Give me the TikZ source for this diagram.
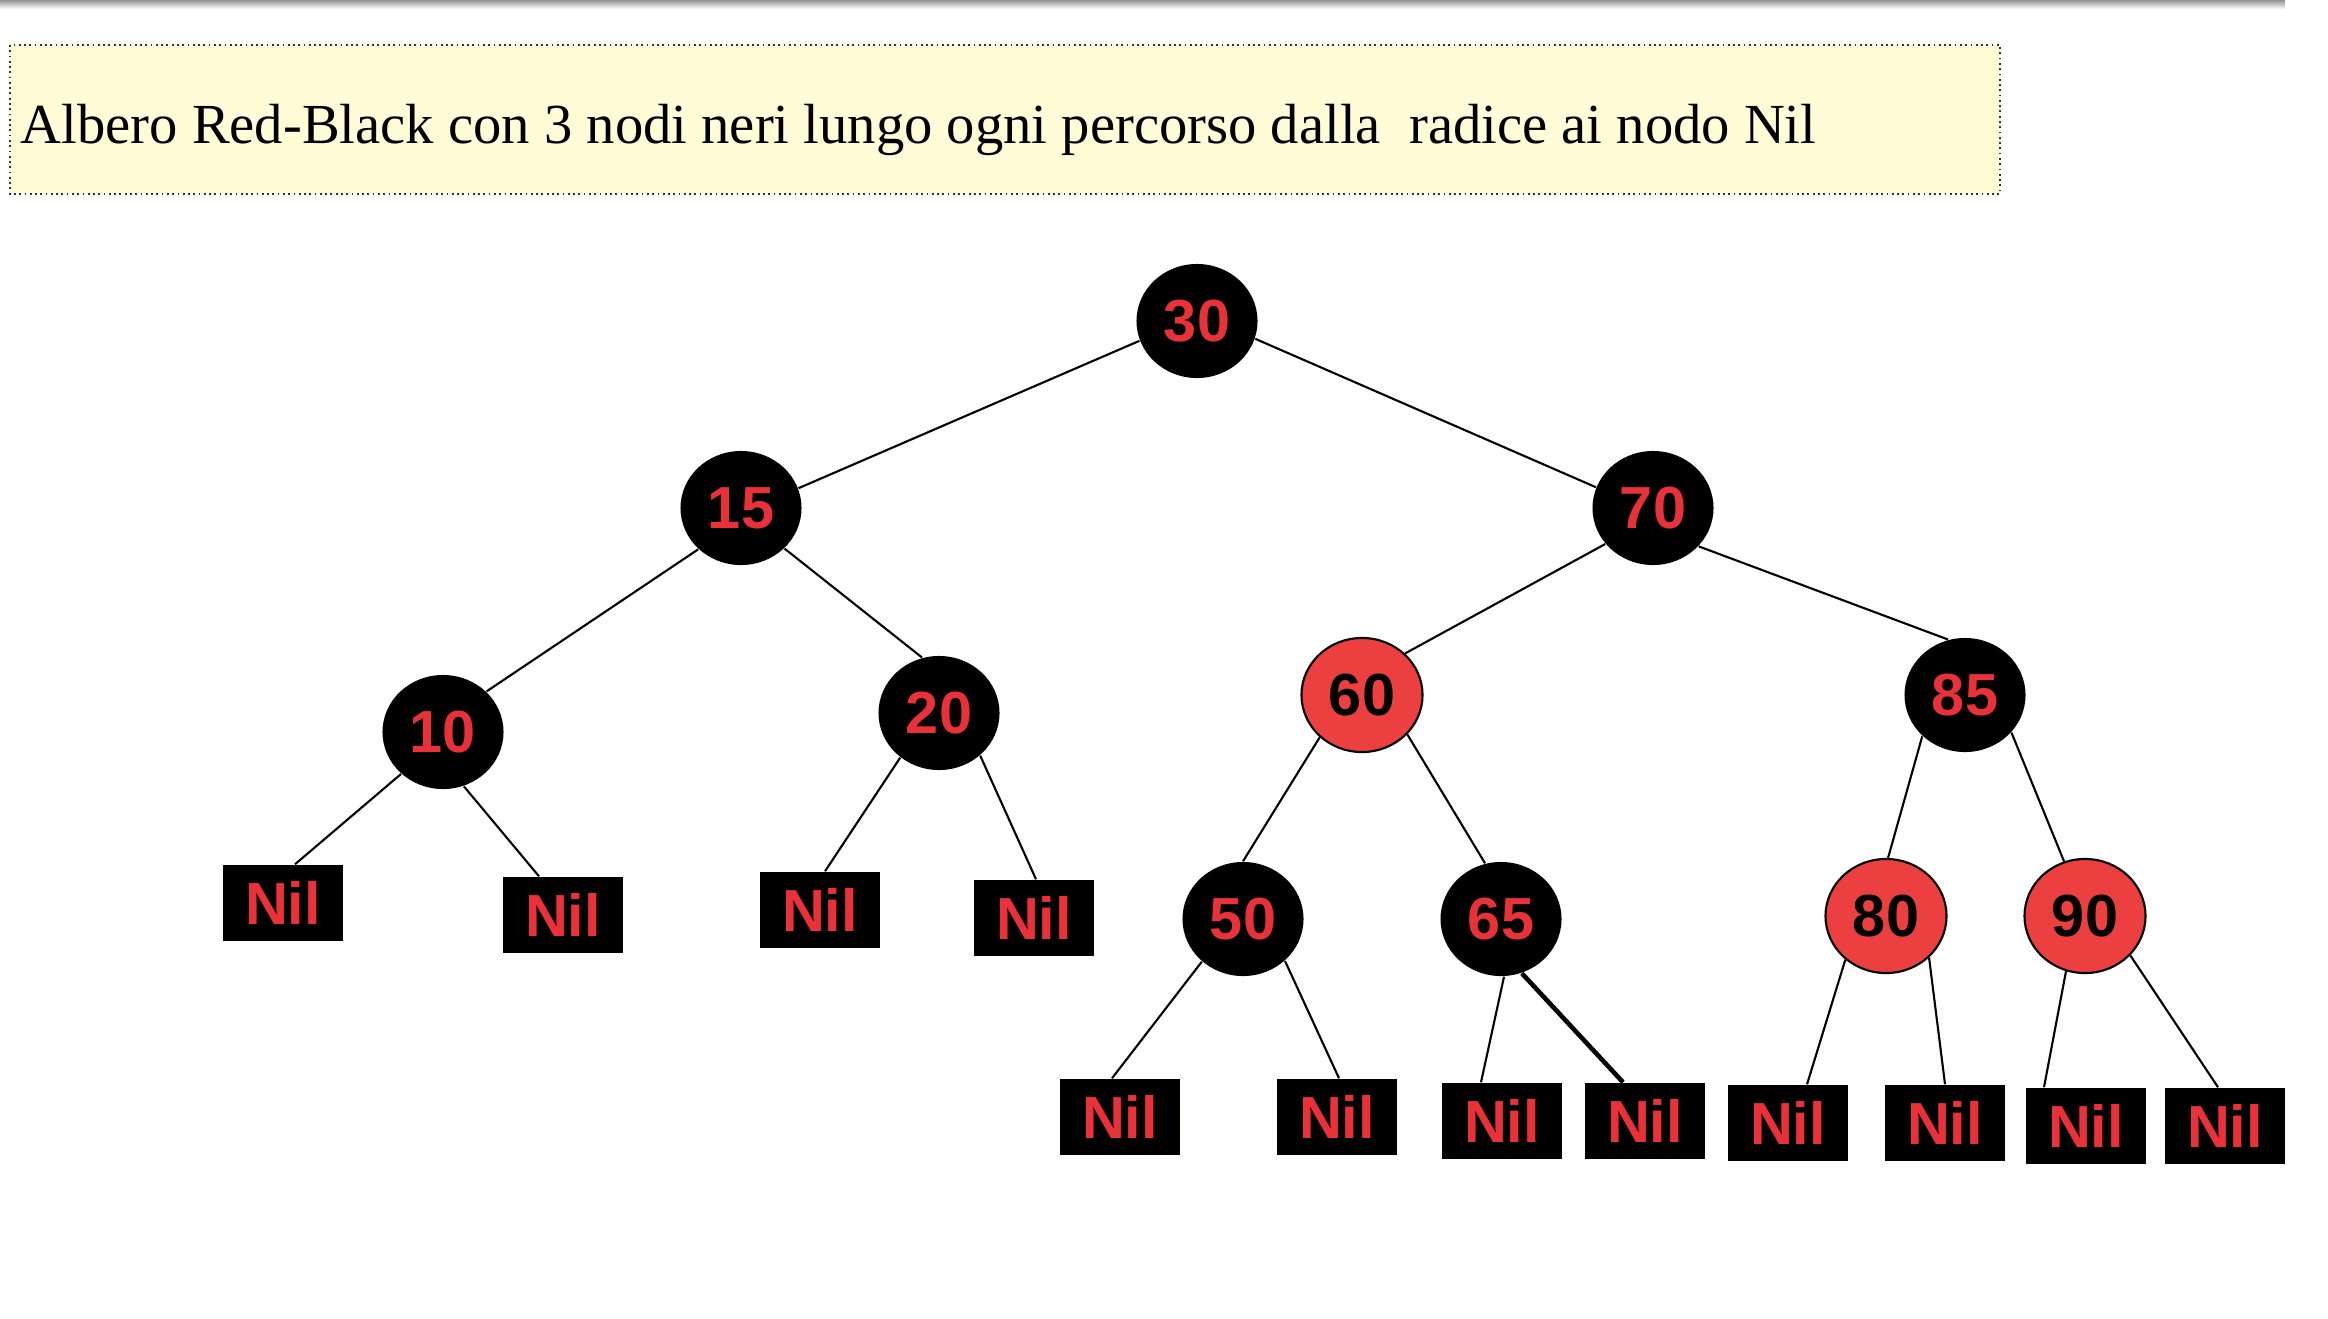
\documentclass[tikz,border=0pt]{standalone}
\usepackage{fontspec}
\setmainfont{Liberation Serif}
\newfontfamily\arialfont{Liberation Sans}
\usetikzlibrary{shapes.geometric}
\definecolor{nodered}{RGB}{236,64,64}
\definecolor{textred}{RGB}{232,49,56}
\definecolor{notebg}{RGB}{255,252,216}
\begin{document}
\begin{tikzpicture}[x=0.01cm,y=-0.01cm,
  keyfont/.style={font=\arialfont\bfseries\fontsize{16.9}{20}\selectfont},
  blacknode/.style={ellipse,fill=black,minimum width=1.21cm,minimum height=1.14cm,inner sep=0pt,keyfont,text=textred},
  rednode/.style={ellipse,fill=nodered,draw=black,line width=0.6pt,minimum width=1.21cm,minimum height=1.14cm,inner sep=0pt,keyfont,text=black},
  nilbox/.style={rectangle,fill=black,minimum width=1.2cm,minimum height=0.76cm,inner sep=0pt,keyfont,text=textred},
  link/.style={draw,line width=0.6pt},
  thicklink/.style={draw,line width=1.3pt}]
\useasboundingbox (0,0) rectangle (2328,1318);
\shade[top color=gray!85,bottom color=white] (0,0) rectangle (2285,9);

% title
\draw[fill=notebg,draw=black!80,densely dotted,line width=0.5pt] (10,45) rectangle (2000,194);
\node[anchor=base west,inner sep=0pt,font=\fontsize{16.1}{20}\selectfont] (title) at (20,143) {Albero Red-Black con 3 nodi neri lungo ogni percorso dalla\ \ radice ai nodo Nil};

% tree
\node[blacknode] (n30) at (1197,321) {30};
\node[blacknode] (n15) at (741,508) {15};
\node[blacknode] (n70) at (1653,508) {70};
\node[blacknode] (n10) at (443,732) {10};
\node[blacknode] (n20) at (939,713) {20};
\node[rednode] (n60) at (1362,695) {60};
\node[blacknode] (n85) at (1965,695) {85};
\node[blacknode] (n50) at (1243,919) {50};
\node[blacknode] (n65) at (1501,919) {65};
\node[rednode] (n80) at (1886,916) {80};
\node[rednode] (n90) at (2085,916) {90};

\node[nilbox] (nil10l) at (283,903) {Nil};
\node[nilbox] (nil10r) at (563,915) {Nil};
\node[nilbox] (nil20l) at (820,910) {Nil};
\node[nilbox] (nil20r) at (1034,918) {Nil};
\node[nilbox] (nil50l) at (1120,1117) {Nil};
\node[nilbox] (nil50r) at (1337,1117) {Nil};
\node[nilbox] (nil65l) at (1502,1121) {Nil};
\node[nilbox] (nil65r) at (1645,1121) {Nil};
\node[nilbox] (nil80l) at (1788,1123) {Nil};
\node[nilbox] (nil80r) at (1945,1123) {Nil};
\node[nilbox] (nil90l) at (2086,1126) {Nil};
\node[nilbox] (nil90r) at (2225,1126) {Nil};

\path[link] (n30.199) -- (n15.19);
\path[link] (n30.-17) -- (n70.160);
\path[link] (n15.224) -- (n10.43);
\path[link] (n15.-43) -- (n20.107);
\path[link] (n70.217) -- (n60.44);
\path[link] (n70.-40) -- (n85.107);
\path[link] (n60.225) -- (n50.90);
\path[link] (n60.-41) -- (n65.106);
\path[link] (n85.224) -- (n80.88);
\path[link] (n85.-39) -- (n90.111);

\path[link] (n10.225) -- ([xshift=0.12cm]nil10l.north);
\path[link] (n10.-69) -- ([xshift=-0.24cm]nil10r.north);
\path[link] (n20.229) -- ([xshift=0.05cm]nil20l.north);
\path[link] (n20.-46) -- ([xshift=0.02cm]nil20r.north);
\path[link] (n50.226) -- ([xshift=-0.08cm]nil50l.north);
\path[link] (n50.-45) -- ([xshift=0.02cm]nil50r.north);
\path[link] (n65.-87) -- ([xshift=-0.21cm]nil65l.north);
\path[thicklink] (n65.-69) -- ([xshift=-0.22cm]nil65r.north);
\path[link] (n80.227) -- ([xshift=0.19cm]nil80l.north);
\path[link] (n80.-44) -- (nil80r.north);
\path[link] (n90.-109) -- ([xshift=-0.42cm]nil90l.north);
\path[link] (n90.-41) -- ([xshift=-0.07cm]nil90r.north);
\end{tikzpicture}
\end{document}
